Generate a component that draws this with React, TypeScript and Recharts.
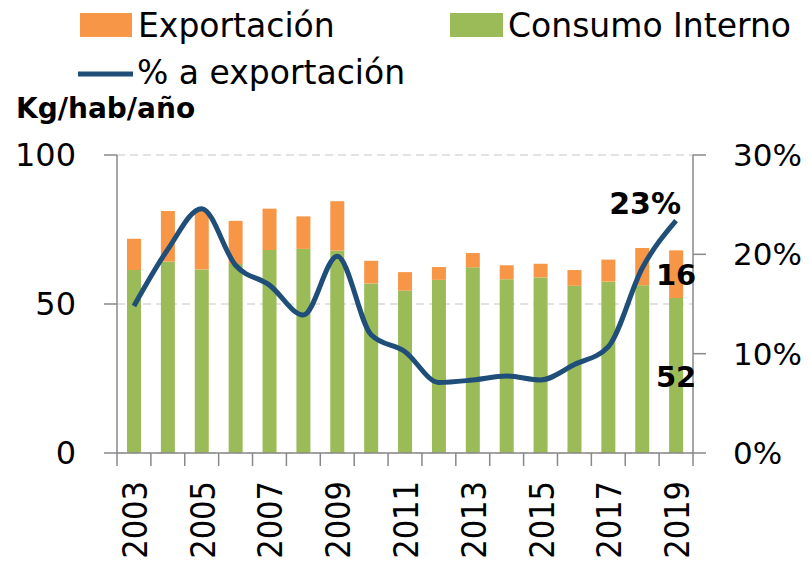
import React from 'react';
import { ComposedChart, Bar, Line, XAxis, YAxis, CartesianGrid, LabelList } from 'recharts';

const years = ['2003', '2004', '2005', '2006', '2007', '2008', '2009', '2010', '2011', '2012', '2013', '2014', '2015', '2016', '2017', '2018', '2019'];
const consumoInterno = [61.4, 64.2, 61.6, 63.4, 68.1, 68.5, 67.9, 56.9, 54.5, 58.1, 62.3, 58.3, 58.9, 56.1, 57.5, 56.3, 52];
const exportacion = [10.5, 17.0, 19.7, 14.5, 13.9, 10.9, 16.6, 7.6, 6.2, 4.3, 4.8, 4.7, 4.6, 5.3, 7.4, 12.5, 16];
const pctExportacion = [14.8, 20.5, 24.6, 18.9, 16.9, 13.9, 19.8, 11.9, 10.2, 7.1, 7.35, 7.75, 7.35, 8.9, 10.7, 18.6, 23.4];
const leftTicks = [0, 50, 100];
const rightTicks = [0, 10, 20, 30];

const data = years.map((year, i) => ({
  year,
  consumo: consumoInterno[i],
  exporta: exportacion[i],
  pct: pctExportacion[i],
}));

const W = 811;
const H = 566;
const LEFT_W = 117;
const RIGHT_W = 118;
const TOP = 155;
const X_H = 113;
const BAND = (W - LEFT_W - RIGHT_W) / years.length;
const LAST = years.length - 1;

const ORANGE = '#F79646';
const GREEN = '#9BBB59';
const BLUE = '#1F4E79';
const AXIS = '#888888';
const FONT = "'DejaVu Sans', sans-serif";
const NARROW = "'DejaVu Sans Condensed', 'DejaVu Sans', sans-serif";

const YearTick = (props: any) => {
  const { x, y, payload, index } = props;
  const yr = Number(payload.value);
  return (
    <g>
      <line x1={x - BAND / 2} x2={x - BAND / 2} y1={y} y2={y + 13} stroke={AXIS} strokeWidth={1.5} />
      {index === LAST && (
        <line x1={x + BAND / 2} x2={x + BAND / 2} y1={y} y2={y + 13} stroke={AXIS} strokeWidth={1.5} />
      )}
      {yr % 2 === 1 && (
        <text
          transform={`translate(${x + 13},${y + 28}) rotate(-90)`}
          textAnchor="end"
          fontFamily={NARROW}
          fontSize={34}
          fill="#000"
        >
          {payload.value}
        </text>
      )}
    </g>
  );
};

const lastBarLabel = (props: any) => {
  const { x, y, width, height, value, index } = props;
  if (index !== LAST) return null;
  return (
    <text
      x={x + width / 2}
      y={y + height / 2 + 11}
      textAnchor="middle"
      fontFamily={FONT}
      fontWeight="bold"
      fontSize={29}
      fill="#000"
    >
      {Math.round(value)}
    </text>
  );
};

const lastPctLabel = (props: any) => {
  const { x, y, value, index } = props;
  if (index !== LAST) return null;
  return (
    <text x={x - 31} y={y - 7} textAnchor="middle" fontFamily={FONT} fontWeight="bold" fontSize={30} fill="#000">
      {`${Math.round(value)}%`}
    </text>
  );
};

export default function App() {
  return (
    <div style={{ position: 'absolute', left: 0, top: 0, width: W, height: H, background: '#fff' }}>
      <ComposedChart width={W} height={H} data={data} margin={{ top: TOP, right: 0, bottom: 0, left: 0 }}>
        <CartesianGrid yAxisId="left" vertical={false} stroke="#D9D9D9" strokeDasharray="8 5" strokeWidth={1.5} />
        <XAxis
          dataKey="year"
          interval={0}
          height={X_H}
          tickLine={false}
          tickSize={0}
          tickMargin={0}
          axisLine={{ stroke: AXIS, strokeWidth: 1.5 }}
          tick={<YearTick />}
        />
        <YAxis
          yAxisId="left"
          width={LEFT_W}
          domain={[0, 100]}
          ticks={leftTicks}
          tickSize={13}
          tickMargin={28}
          axisLine={{ stroke: AXIS, strokeWidth: 1.5 }}
          tickLine={{ stroke: AXIS, strokeWidth: 1.5 }}
          tick={{ fill: '#000', fontSize: 32, fontFamily: FONT }}
        />
        <YAxis
          yAxisId="right"
          orientation="right"
          width={RIGHT_W}
          domain={[0, 30]}
          ticks={rightTicks}
          tickFormatter={(v: number) => `${v}%`}
          tickSize={13}
          tickMargin={27}
          axisLine={{ stroke: AXIS, strokeWidth: 1.5 }}
          tickLine={{ stroke: AXIS, strokeWidth: 1.5 }}
          tick={{ fill: '#000', fontSize: 31, fontFamily: FONT, textAnchor: 'start' }}
        />
        <Bar yAxisId="left" dataKey="consumo" stackId="a" fill={GREEN} barSize={14} isAnimationActive={false}>
          <LabelList dataKey="consumo" content={lastBarLabel} />
        </Bar>
        <Bar yAxisId="left" dataKey="exporta" stackId="a" fill={ORANGE} barSize={14} isAnimationActive={false}>
          <LabelList dataKey="exporta" content={lastBarLabel} />
        </Bar>
        <Line
          yAxisId="right"
          type="monotone"
          dataKey="pct"
          stroke={BLUE}
          strokeWidth={5}
          dot={false}
          isAnimationActive={false}
        >
          <LabelList dataKey="pct" content={lastPctLabel} />
        </Line>
      </ComposedChart>
      <svg width={W} height={140} style={{ position: 'absolute', left: 0, top: 0, pointerEvents: 'none' }}>
        <rect x={80} y={13} width={52} height={24} fill={ORANGE} />
        <text x={138} y={37} fontFamily={FONT} fontSize={33} fill="#000">Exportación</text>
        <rect x={450} y={13} width={53} height={24} fill={GREEN} />
        <text x={508} y={37} fontFamily={FONT} fontSize={33} fill="#000">Consumo Interno</text>
        <line x1={78} x2={133} y1={74} y2={74} stroke={BLUE} strokeWidth={5} />
        <text x={137} y={84} fontFamily={FONT} fontSize={33} fill="#000">% a exportación</text>
        <text x={16} y={118} fontFamily={FONT} fontWeight="bold" fontSize={28} fill="#000">Kg/hab/año</text>
      </svg>
    </div>
  );
}
